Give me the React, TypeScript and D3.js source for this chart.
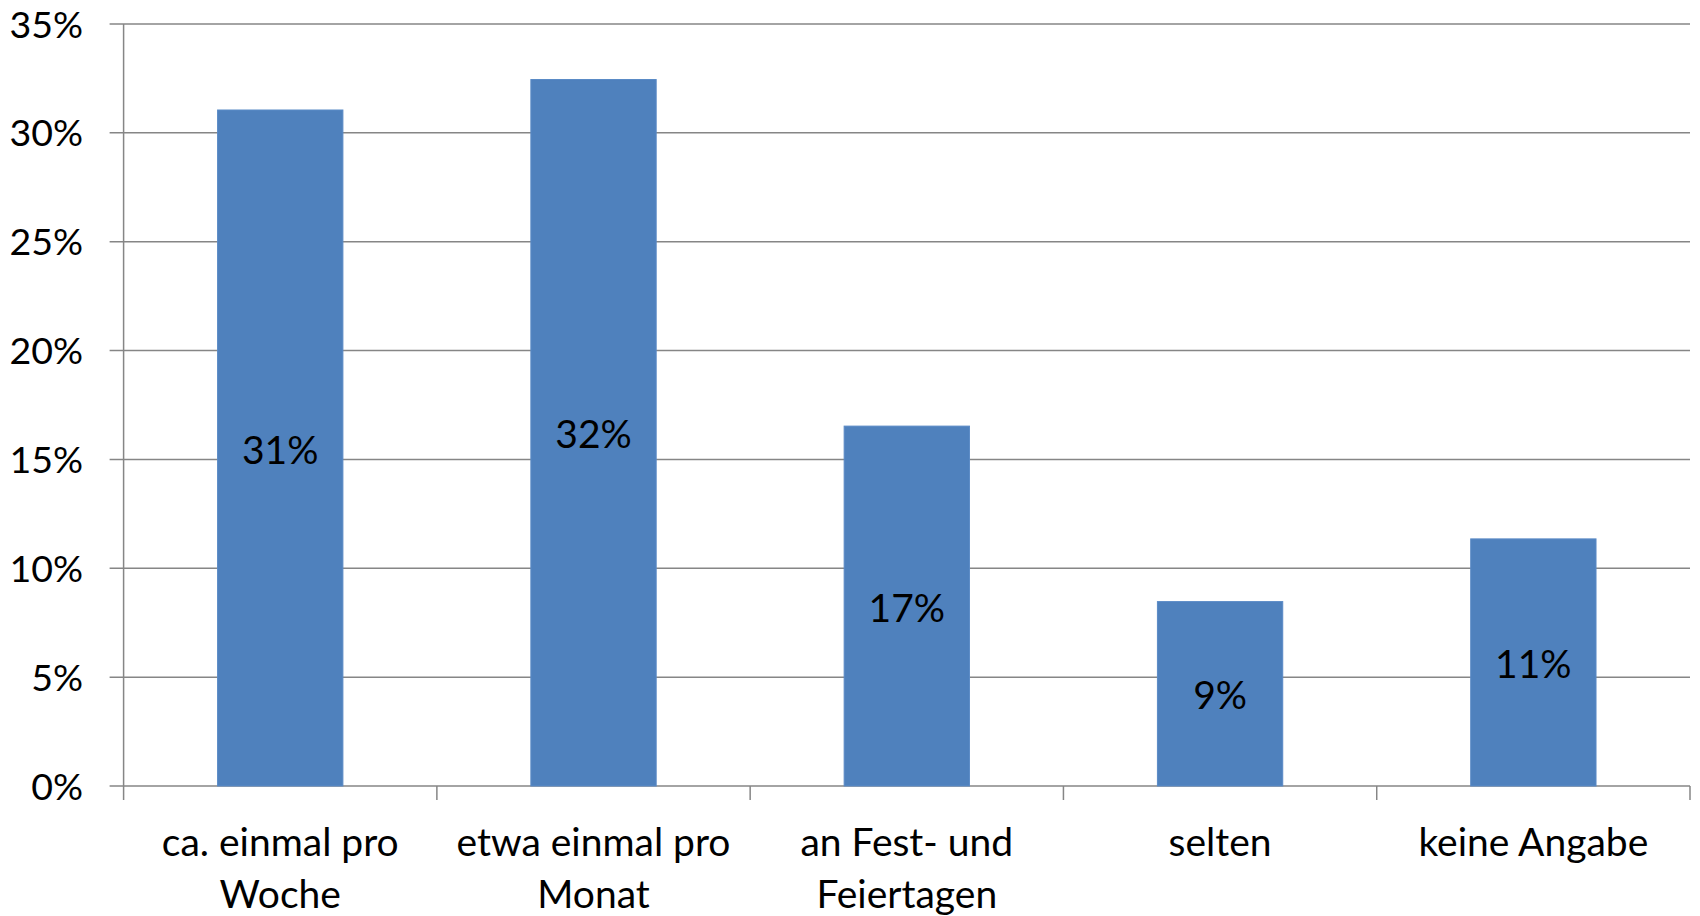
import React from "react";
import { scaleBand, scaleLinear, format } from "d3";

// Kategorien (zweizeilig wie im Original)
const categories = [
  ["ca. einmal pro", "Woche"],
  ["etwa einmal pro", "Monat"],
  ["an Fest- und", "Feiertagen"],
  ["selten"],
  ["keine Angabe"],
];
const values = [0.3105, 0.3245, 0.1653, 0.0847, 0.1135];
const valueLabels = ["31%", "32%", "17%", "9%", "11%"];
const yTicks = [0, 0.05, 0.1, 0.15, 0.2, 0.25, 0.3, 0.35];

const width = 1700;
const height = 916;
const left = 123.6;
const right = 1690;
const top = 24;
const bottom = 786;
const font = "Lato, 'Open Sans', sans-serif";
const gridColor = "#868686";
const barColor = "#4F81BD";

const App = () => {
  const keys = categories.map((c, i) => String(i));
  const x = scaleBand<string>().domain(keys).range([left, right]).paddingInner(0.6).paddingOuter(0.3);
  const y = scaleLinear().domain([0, 0.35]).range([bottom, top]);
  const pct = format(".0%");
  const step = x.step();

  return (
    <div style={{ position: "absolute", left: 0, top: 0 }}>
      <svg width={width} height={height} style={{ display: "block", background: "#fff" }}>
        {/* gridlines + y ticks */}
        {yTicks.map((t) => (
          <g key={t}>
            <line x1={left - 14} x2={right} y1={y(t)} y2={y(t)} stroke={gridColor} strokeWidth={1.5} />
            <text x={83} y={y(t)} dy="0.36em" textAnchor="end" fontFamily={font} fontSize={37.5} fill="#000">
              {pct(t)}
            </text>
          </g>
        ))}
        {/* y axis line */}
        <line x1={left} x2={left} y1={top} y2={bottom + 14} stroke={gridColor} strokeWidth={1.5} />
        {/* category ticks */}
        {categories.map((c, i) => (
          <line key={i} x1={left + (i + 1) * step} x2={left + (i + 1) * step} y1={bottom} y2={bottom + 14} stroke={gridColor} strokeWidth={1.5} />
        ))}
        {/* bars */}
        {values.map((v, i) => (
          <rect
            key={i}
            x={x(String(i))}
            y={y(v)}
            width={x.bandwidth()}
            height={bottom - y(v)}
            fill={barColor}
            stroke="#5a8ac6"
            strokeWidth={1}
          />
        ))}
        {/* data labels */}
        {values.map((v, i) => (
          <text
            key={i}
            x={(x(String(i)) as number) + x.bandwidth() / 2}
            y={(y(v) + bottom) / 2 + 2}
            dy="0.35em"
            textAnchor="middle"
            fontFamily={font}
            fontSize={39}
            fill="#000"
          >
            {valueLabels[i]}
          </text>
        ))}
        {/* category labels */}
        {categories.map((lines, i) => (
          <text
            key={i}
            x={(x(String(i)) as number) + x.bandwidth() / 2}
            y={856}
            textAnchor="middle"
            fontFamily={font}
            fontSize={39}
            fill="#000"
          >
            {lines.map((l, j) => (
              <tspan key={j} x={(x(String(i)) as number) + x.bandwidth() / 2} dy={j === 0 ? 0 : 52}>
                {l}
              </tspan>
            ))}
          </text>
        ))}
      </svg>
    </div>
  );
};

export default App;
